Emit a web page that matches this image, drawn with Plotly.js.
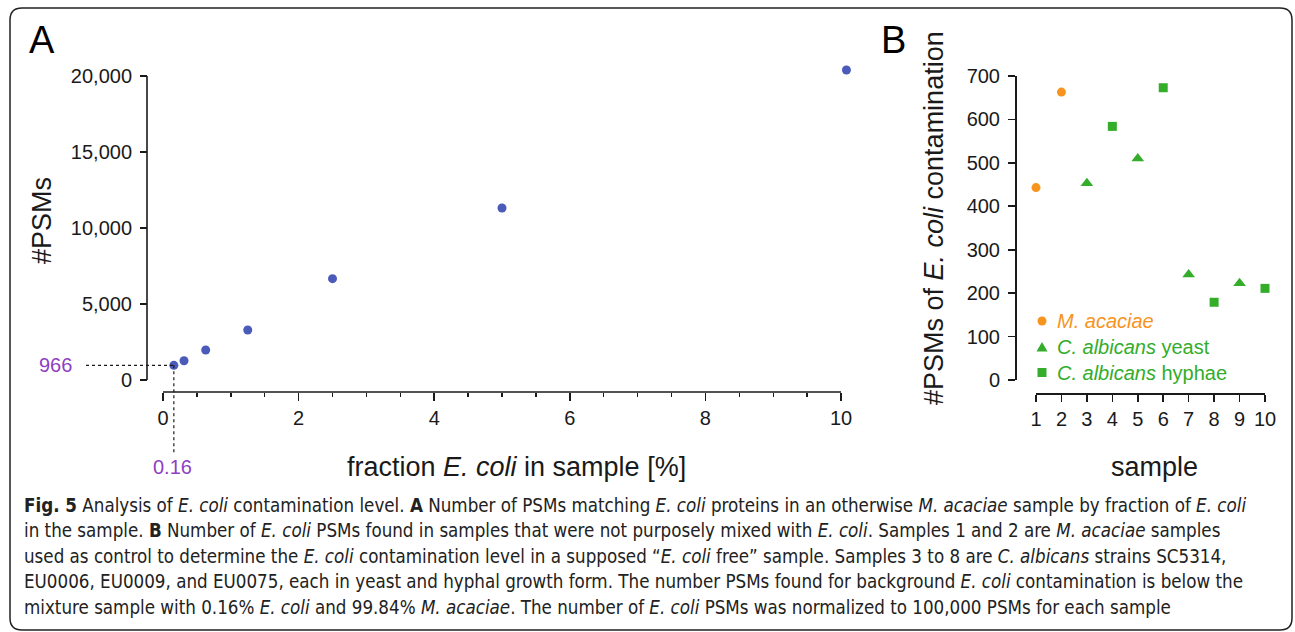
<!DOCTYPE html>
<html>
<head>
<meta charset="utf-8">
<script src="https://cdn.plot.ly/plotly-3.0.1.min.js"></script>
<style>
html,body{margin:0;padding:0;background:#fff;}
#chart{width:1295px;height:632px;}
</style>
</head>
<body>
<div id="chart"></div>
<script>
// ---------------- DATA ----------------
// Panel A: PSMs vs fraction E. coli
const fractionEcoli = [0.16, 0.31, 0.63, 1.25, 2.5, 5.0, 10.08];
const psmCount      = [966, 1270, 1974, 3289, 6667, 11316, 20395];
const markFraction  = 0.16;
const markPSM       = 966;
const xTicksA       = [0, 2, 4, 6, 8, 10];
const yTicksA       = [0, 5000, 10000, 15000, 20000];

// Panel B: PSMs of E. coli contamination per sample
const sampleMacaciae = [1, 2];
const psmMacaciae    = [443, 663];
const sampleYeast    = [3, 5, 7, 9];
const psmYeast       = [453, 510, 243, 223];
const sampleHyphae   = [4, 6, 8, 10];
const psmHyphae      = [584, 673, 179, 211];
const xTicksB        = [1, 2, 3, 4, 5, 6, 7, 8, 9, 10];
const yTicksB        = [0, 100, 200, 300, 400, 500, 600, 700];
const legendNamesB   = ['<i>M. acaciae</i>', '<i>C. albicans</i> yeast', '<i>C. albicans</i> hyphae'];

const captionLines = [
  '<b>Fig. 5</b> Analysis of <i>E. coli</i> contamination level. <b>A</b> Number of PSMs matching <i>E. coli</i> proteins in an otherwise <i>M. acaciae</i> sample by fraction of <i>E. coli</i>',
  'in the sample. <b>B</b> Number of <i>E. coli</i> PSMs found in samples that were not purposely mixed with <i>E. coli</i>. Samples 1 and 2 are <i>M. acaciae</i> samples',
  'used as control to determine the <i>E. coli</i> contamination level in a supposed \u201c<i>E. coli</i> free\u201d sample. Samples 3 to 8 are <i>C. albicans</i> strains SC5314,',
  'EU0006, EU0009, and EU0075, each in yeast and hyphal growth form. The number PSMs found for background <i>E. coli</i> contamination is below the',
  'mixture sample with 0.16% <i>E. coli</i> and 99.84% <i>M. acaciae</i>. The number of <i>E. coli</i> PSMs was normalized to 100,000 PSMs for each sample'
];

// ---------------- LAYOUT HELPERS ----------------
const W = 1295, H = 632;
const px = x => x / W;
const py = y => 1 - y / H;

const COL_BLUE = '#4a5bba', COL_ORANGE = '#f7941d', COL_GREEN = '#33ad2a', COL_PURPLE = '#8e3fc2';
const INK = '#1a1a1a';
const FONT = 'Liberation Sans, Arial, sans-serif';
const CAPFONT = '"Liberation Sans Narrow", "DejaVu Sans Condensed", "Open Sans", sans-serif';

// axis geometry: pixel position of the first/last labelled tick, and the axis range
function geom(pxA, pxB, vA, vB, lo, hi) {
  const k = (pxB - pxA) / (vB - vA);
  return {p0: pxA + (lo - vA) * k, p1: pxA + (hi - vA) * k, r: [lo, hi], k: k, pA: pxA, vA: vA};
}
const AX = geom(163, 841, 0, 10, 0, 10.12);        // x of panel A
const AY = geom(380, 76, 0, 20000, 0, 20550);      // y of panel A
const BX = geom(1036, 1265, 1, 10, 1, 10);
const BY = geom(380, 76, 0, 700, 0, 700);
const A_XAXIS_Y = 392, A_YAXIS_X = 147, B_XAXIS_Y = 393, B_YAXIS_X = 1015;
const toPx = (g, v) => g.pA + (v - g.vA) * g.k;

const axisCommon = {
  showgrid: false, zeroline: false, showline: true, linecolor: INK, linewidth: 1.6,
  ticks: 'outside', ticklen: 7, tickwidth: 1.6, tickcolor: INK,
  tickfont: {family: FONT, size: 20, color: INK}, anchor: 'free', fixedrange: true
};

const traces = [
  {x: fractionEcoli, y: psmCount, xaxis: 'x', yaxis: 'y', type: 'scatter', mode: 'markers',
   marker: {color: COL_BLUE, size: 9, symbol: 'circle'}, cliponaxis: false, showlegend: false},
  {x: sampleMacaciae, y: psmMacaciae, xaxis: 'x2', yaxis: 'y2', type: 'scatter', mode: 'markers',
   name: 'M. acaciae', marker: {color: COL_ORANGE, size: 9, symbol: 'circle'}, cliponaxis: false, showlegend: false},
  {x: sampleYeast, y: psmYeast, xaxis: 'x2', yaxis: 'y2', type: 'scatter', mode: 'markers',
   name: 'C. albicans yeast', marker: {color: COL_GREEN, size: 11, symbol: 'triangle-up'}, cliponaxis: false, showlegend: false},
  {x: sampleHyphae, y: psmHyphae, xaxis: 'x2', yaxis: 'y2', type: 'scatter', mode: 'markers',
   name: 'C. albicans hyphae', marker: {color: COL_GREEN, size: 9, symbol: 'square'}, cliponaxis: false, showlegend: false}
];

const gx = toPx(AX, markFraction), gy = toPx(AY, markPSM);
const lineStyle = {color: INK, width: 1.6};

// legend (panel B) geometry
const legX = 1042, legY = [321, 347, 372.5], legText = 1055;

const shapes = [
  // rounded figure frame
  {type: 'path', xref: 'paper', yref: 'paper', line: {color: '#222', width: 1.5},
   path: `M ${px(22)} ${py(8)} L ${px(1280)} ${py(8)} Q ${px(1292)} ${py(8)} ${px(1292)} ${py(20)} ` +
         `L ${px(1292)} ${py(618)} Q ${px(1292)} ${py(630)} ${px(1280)} ${py(630)} ` +
         `L ${px(22)} ${py(630)} Q ${px(10)} ${py(630)} ${px(10)} ${py(618)} ` +
         `L ${px(10)} ${py(20)} Q ${px(10)} ${py(8)} ${px(22)} ${py(8)} Z`},
  // panel A axis lines (span first..last labelled tick)
  {type: 'line', xref: 'paper', yref: 'paper', line: lineStyle,
   x0: px(toPx(AX, xTicksA[0])), x1: px(toPx(AX, xTicksA[xTicksA.length - 1])), y0: py(A_XAXIS_Y), y1: py(A_XAXIS_Y)},
  {type: 'line', xref: 'paper', yref: 'paper', line: lineStyle,
   x0: px(A_YAXIS_X), x1: px(A_YAXIS_X), y0: py(toPx(AY, yTicksA[0])), y1: py(toPx(AY, yTicksA[yTicksA.length - 1]))},
  // dashed guides to the 0.16 % point
  {type: 'line', xref: 'paper', yref: 'paper', x0: px(86), x1: px(gx), y0: py(gy), y1: py(gy),
   line: {color: INK, width: 1.2, dash: '3px,3px'}},
  {type: 'line', xref: 'paper', yref: 'paper', x0: px(gx), x1: px(gx), y0: py(gy), y1: py(453),
   line: {color: INK, width: 1.2, dash: '3px,3px'}},
  // legend symbols for panel B
  {type: 'circle', xref: 'paper', yref: 'paper', fillcolor: COL_ORANGE, line: {width: 0},
   x0: px(legX - 4.5), x1: px(legX + 4.5), y0: py(legY[0] - 4.5), y1: py(legY[0] + 4.5)},
  {type: 'path', xref: 'paper', yref: 'paper', fillcolor: COL_GREEN, line: {width: 0},
   path: `M ${px(legX - 5.5)} ${py(legY[1] + 4.5)} L ${px(legX + 5.5)} ${py(legY[1] + 4.5)} L ${px(legX)} ${py(legY[1] - 5)} Z`},
  {type: 'rect', xref: 'paper', yref: 'paper', fillcolor: COL_GREEN, line: {width: 0},
   x0: px(legX - 4.5), x1: px(legX + 4.5), y0: py(legY[2] - 4.5), y1: py(legY[2] + 4.5)}
];

const ann = (text, x, y, size, color, extra) => Object.assign({
  text: text, x: px(x), y: py(y), xref: 'paper', yref: 'paper', showarrow: false,
  xanchor: 'center', yanchor: 'middle', font: {family: FONT, size: size, color: color}
}, extra || {});

const annotations = [
  ann('A', 42, 40, 38, '#000'),
  ann('B', 893, 40, 38, '#000'),
  ann('#PSMs', 42, 221, 27, INK, {textangle: -90}),
  ann('fraction <i>E. coli</i> in sample [%]', 516, 467, 27, INK),
  ann('#PSMs of <i>E. coli</i> contamination', 934, 218, 27, INK, {textangle: -90}),
  ann('sample', 1154, 467, 27, INK),
  ann(String(markPSM), 74, gy, 20, COL_PURPLE, {xanchor: 'right'}),
  ann(String(markFraction), gx - 1, 467, 20, COL_PURPLE),
  ann(legendNamesB[0], legText, legY[0], 20, COL_ORANGE, {xanchor: 'left'}),
  ann(legendNamesB[1], legText, legY[1], 20, COL_GREEN, {xanchor: 'left'}),
  ann(legendNamesB[2], legText, legY[2], 20, COL_GREEN, {xanchor: 'left'})
];

const capY = [505, 530.5, 556, 581.5, 607];
const capStart = annotations.length;
captionLines.forEach((t, i) => annotations.push(
  ann(t, 22, capY[i], 17, '#222', {xanchor: 'left', font: {family: CAPFONT, size: 17, color: '#222'}})
));

const layout = {
  width: W, height: H, margin: {l: 0, r: 0, t: 0, b: 0},
  paper_bgcolor: '#fff', plot_bgcolor: 'rgba(0,0,0,0)',
  font: {family: FONT, color: INK}, showlegend: false,
  xaxis: Object.assign({}, axisCommon, {
    domain: [px(AX.p0), px(AX.p1)], range: AX.r, position: py(A_XAXIS_Y), showline: false,
    tickvals: xTicksA, ticklen: 8,
    minor: {dtick: 0.5, tick0: 0, ticks: 'outside', ticklen: 4, tickwidth: 1.4, tickcolor: INK}
  }),
  yaxis: Object.assign({}, axisCommon, {
    domain: [py(AY.p0), py(AY.p1)], range: AY.r, position: px(A_YAXIS_X), showline: false,
    tickvals: yTicksA, tickformat: ',d', ticklabelstandoff: 4
  }),
  xaxis2: Object.assign({}, axisCommon, {
    domain: [px(BX.p0), px(BX.p1)], range: BX.r, position: py(B_XAXIS_Y), tickvals: xTicksB
  }),
  yaxis2: Object.assign({}, axisCommon, {
    domain: [py(BY.p0), py(BY.p1)], range: BY.r, position: px(B_YAXIS_X),
    tickvals: yTicksB, ticklabelstandoff: 4
  }),
  shapes: shapes, annotations: annotations
};

Plotly.newPlot('chart', traces, layout, {displayModeBar: false, staticPlot: true}).then(gd => {
  // fit the first caption line to the reference width (22px .. 1246px)
  const nodes = gd.querySelectorAll('.annotation-text');
  let w = 0;
  nodes.forEach(n => { if (n.textContent.indexOf('Fig. 5') === 0) w = n.getBBox().width; });
  if (w > 0) {
    const size = 17 * (1224 / w);
    const upd = {};
    for (let i = capStart; i < annotations.length; i++) upd['annotations[' + i + '].font.size'] = size;
    Plotly.relayout(gd, upd);
  }
});
</script>
</body>
</html>
